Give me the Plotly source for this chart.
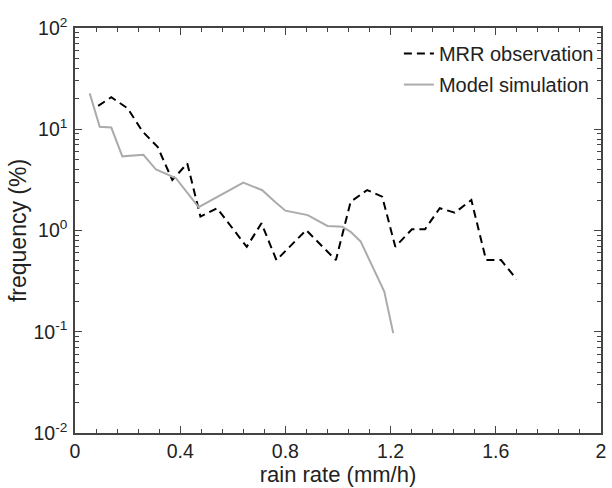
import plotly.graph_objects as go

# MRR observation (black dashed)
mrr_x = [0.088, 0.138, 0.200, 0.257, 0.314, 0.370, 0.427, 0.477, 0.540, 0.653, 0.709,
         0.766, 0.879, 0.992, 1.048, 1.111, 1.168, 1.218, 1.281, 1.331, 1.387, 1.444,
         1.507, 1.563, 1.620, 1.679]
mrr_y = [17.0, 20.7, 16.1, 9.5, 6.7, 3.15, 4.6, 1.37, 1.66, 0.69, 1.18,
         0.51, 1.01, 0.51, 1.92, 2.51, 2.16, 0.69, 1.03, 1.03, 1.66, 1.50,
         2.0, 0.51, 0.51, 0.33]

# Model simulation (gray solid)
mod_x = [0.056, 0.094, 0.138, 0.180, 0.260, 0.308, 0.383, 0.470, 0.640, 0.712, 0.760,
         0.800, 0.885, 0.960, 1.017, 1.048, 1.086, 1.130, 1.176, 1.210]
mod_y = [22.6, 10.6, 10.4, 5.4, 5.6, 4.0, 3.3, 1.7, 2.97, 2.5, 1.92,
         1.57, 1.42, 1.11, 1.09, 0.97, 0.78, 0.44, 0.25, 0.097]

x_ticks = [0, 0.4, 0.8, 1.2, 1.6, 2]
x_ticktext = ["0", "0.4", "0.8", "1.2", "1.6", "2"]
y_ticks = [0.01, 0.1, 1, 10, 100]
y_ticktext = ["10<sup>-2</sup>", "10<sup>-1</sup>", "10<sup>0</sup>", "10<sup>1</sup>", "10<sup>2</sup>"]

FONT = "Liberation Sans"
AX = "#444444"
TXT = "#222222"

fig = go.Figure()
fig.add_trace(go.Scatter(x=mrr_x, y=mrr_y, mode="lines", name="MRR observation",
                         legendgroup="a",
                         line=dict(color="black", width=2, dash="8px,5px")))
fig.add_trace(go.Scatter(x=mod_x, y=mod_y, mode="lines", name="Model simulation",
                         legendgroup="b",
                         line=dict(color="#ababab", width=2)))

fig.update_layout(
    width=612, height=488,
    margin=dict(l=75, r=6, t=28, b=55),
    plot_bgcolor="white", paper_bgcolor="white",
    font=dict(family=FONT, size=19.5, color=TXT),
    showlegend=True,
    legend=dict(x=0.996, y=0.985, xanchor="right", yanchor="top",
                bgcolor="rgba(0,0,0,0)", font=dict(family=FONT, size=20, color=TXT),
                tracegroupgap=2),
    xaxis=dict(range=[0, 2], tickvals=x_ticks, ticktext=x_ticktext,
               tickfont=dict(family=FONT, size=19.5, color=TXT),
               ticks="inside", ticklen=7, tickwidth=1, tickcolor=AX,
               showline=True, linecolor=AX, linewidth=1.5, mirror="ticks",
               showgrid=False, zeroline=False,
               minor=dict(dtick=0.08, tick0=0, ticks="inside", ticklen=4, tickcolor=AX, showgrid=False),
               title=dict(text="rain rate (mm/h)", standoff=3,
                          font=dict(family=FONT, size=22, color=TXT))),
    yaxis=dict(type="log", range=[-2, 2], tickvals=y_ticks, ticktext=y_ticktext,
               tickfont=dict(family=FONT, size=19.5, color=TXT),
               ticklabelstandoff=2,
               ticks="inside", ticklen=7, tickwidth=1, tickcolor=AX,
               showline=True, linecolor=AX, linewidth=1.5, mirror="ticks",
               showgrid=False, zeroline=False,
               minor=dict(dtick="D1", ticks="inside", ticklen=4, tickcolor=AX, showgrid=False),
               title=dict(text="frequency (%)", standoff=0,
                          font=dict(family=FONT, size=23, color=TXT))),
)

fig.write_html("out.html")
